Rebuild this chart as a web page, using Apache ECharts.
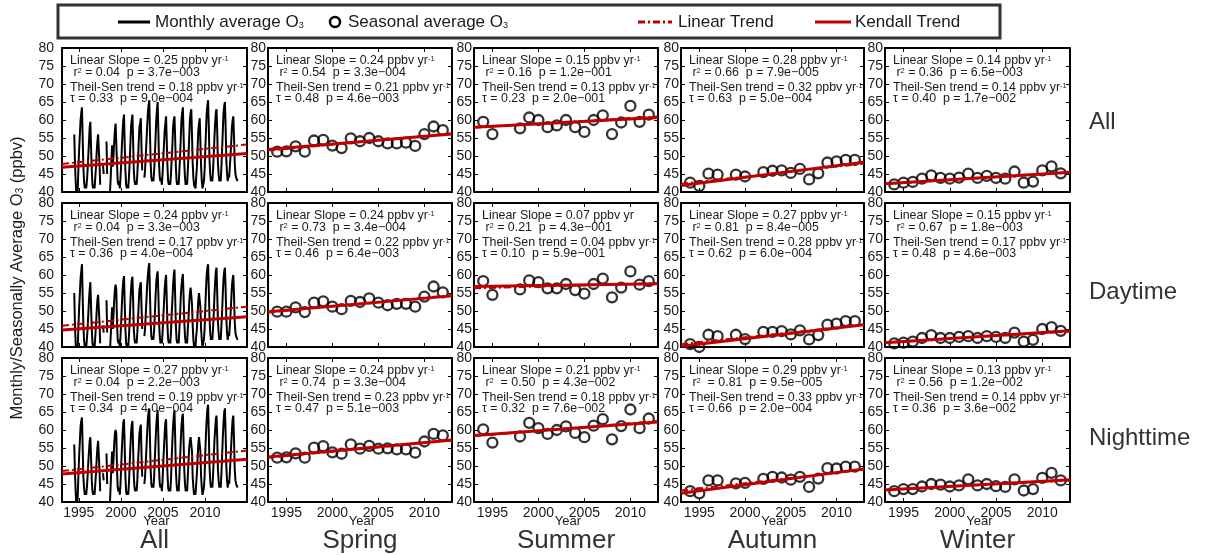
<!DOCTYPE html>
<html><head><meta charset="utf-8">
<script src="https://cdn.jsdelivr.net/npm/echarts@6/dist/echarts.min.js"></script>
<style>html,body{margin:0;padding:0;background:#fff}#c{width:1213px;height:555px}</style>
</head><body><div id="c"></div>
<script>
// ---------------- DATA ----------------
const monthlyYears = [1994,1995,1996,1997,1998,1999,2000,2001,2002,2003,2004,2005,2006,2007,2008,2009,2010,2011,2012,2013];
const monthlyAll = [
 [null,null,null,null,null,56,48,43,39,38,41,47],
 [52,56,60,62,63.5,55,47,43,41,42,41,43],
 [46,50,54,58,59.5,52,46,42,41,42,41,44],
 [47,51,54,56,56.5,48,42,null,52,null,47.5,45],
 [null,null,null,54,45,null,null,null,40,44,49,53],
 [47,50,54,57,59,58.5,48,43,42,43,41,44],
 [48,53,57,60,61.5,53,46,42,41,42,41,44],
 [48,53,58,60,61.5,54,46,43,42,43,42,45],
 [49,54,58,59,60.5,52,46,null,null,44,46,50],
 [54,58,62,64,65.5,57,48,44,43,44,43,46],
 [50,55,60,63,65,57,48,44,43,44,42,45],
 [49,53,57,59,61,54,47,43,42,43,42,45],
 [49,53,58,60,61,55,47,43,42,43,42,46],
 [50,55,60,62,63.5,56,48,44,42,43,42,46],
 [50,55,60,62,63,56,48,44,42,42,41,44],
 [47,52,57,59,60.5,54,47,43,41,42,43,46],
 [52,57,62,64,65.5,58,49,45,43,44,43,46],
 [50,55,59,62,63,57,48,45,43,44,43,47],
 [52,57,62,64,65,58,49,45,43,45,44,47],
 [50,54,58,60,61,55,48,45,44,44,43,null]
];
const monthlyDaytime = [
 [null,null,null,null,null,55,46,41,38,37,40,46],
 [51,55,59,61,63,54,46,42,40,41,40,42],
 [45,49,53,56,58,51,45,41,40,41,40,43],
 [46,50,53,54.5,55,47,41,null,50,null,46,44],
 [null,null,null,53,44,null,null,null,39,43,47,51],
 [45,49,53,56,57.3,56,47,42,41,42,40,43],
 [47,52,56,58.5,59.7,52,45,41,40,41,40,43],
 [47,52,56,58.5,59.5,53,45,42,41,42,41,44],
 [48,52,56,57,58,51,45,null,null,43,45,49],
 [53,57,60,62,63.3,55,47,43,42,43,42,45],
 [49,54,58,60,61,55,47,43,41,42,41,44],
 [48,52,56,58.5,60,53,46,42,41,42,41,44],
 [49,53,57,60,61.5,54,46,42,41,42,41,45],
 [49,54,57,59,60.3,54,47,43,41,42,41,45],
 [48,52,55,56.5,57,52,46,42,40,41,40,43],
 [45,49,53,55,55.5,51,45,42,40,41,42,45],
 [51,56,60,62,63,56,48,44,42,43,42,45],
 [49,54,58,61,62,55,47,44,42,43,42,46],
 [50,55,59,61,62,56,48,44,42,44,43,46],
 [49,53,57,59,60,54,47,44,43,43,42,null]
];
const monthlyNighttime = [
 [null,null,null,null,null,56,48,43,39,38,42,48],
 [53,57,61,62.5,63.5,55,47,44,42,43,42,44],
 [47,51,54,57,58,52,46,43,42,43,42,45],
 [48,52,55,57,57.5,49,43,null,53,null,48,46],
 [null,null,null,53.5,45,null,null,null,40,45,50,54],
 [48,52,56,59,60,59,49,44,43,44,42,45],
 [50,55,59,62,63,55,47,43,42,43,42,45],
 [50,55,59,61.5,62.5,55,47,44,43,44,43,46],
 [51,55,59,60.5,61.5,53,47,null,null,45,47,51],
 [55,59,63,65,66,58,49,45,44,45,44,47],
 [52,57,61,64,65.5,58,49,45,44,45,43,46],
 [51,55,59,62,63,56,48,44,43,44,43,46],
 [52,57,61,64,65.5,58,49,45,43,44,43,47],
 [52,57,61,63.5,64.5,57,49,45,43,44,43,47],
 [51,55,57,58,58.5,54,47,44,42,43,42,45],
 [48,52,56,58,58.5,54,47,44,42,43,44,47],
 [54,59,63,66,67,59,50,46,44,45,44,47],
 [52,57,60,63,64,58,49,46,44,45,44,48],
 [53,58,62,65,66,59,50,46,44,46,45,48],
 [52,56,60,63,64,57,49,46,45,45,44,null]
];

const springYears = [1994,1995,1996,1997,1998,1999,2000,2001,2002,2003,2004,2005,2006,2007,2008,2009,2010,2011,2012];
const summerYears = [1994,1995,1998,1999,2000,2001,2002,2003,2004,2005,2006,2007,2008,2009,2010,2011,2012];
const autumnYears = [1994,1995,1996,1997,1999,2000,2002,2003,2004,2005,2006,2007,2008,2009,2010,2011,2012];
const winterYears = [1994,1995,1996,1997,1998,1999,2000,2001,2002,2003,2004,2005,2006,2007,2008,2009,2010,2011,2012];

const springAll = [51.2,51.3,52.7,51.2,54.3,54.5,52.9,52.2,54.9,54.1,55.0,54.1,53.5,53.5,53.7,52.8,56.1,58.2,57.2];
const summerAll = [59.5,56.1,57.7,60.7,60.0,58.0,58.5,60.0,58.0,56.7,60.0,61.3,56.1,59.3,63.9,59.5,61.5];
const autumnAll = [42.6,41.7,45.1,44.8,44.8,44.3,45.5,45.9,46.0,45.3,46.4,43.5,45.2,48.2,48.5,48.9,48.9];
const winterAll = [42.1,42.6,42.8,43.7,44.6,43.9,43.7,44.0,45.1,43.9,44.5,43.9,43.7,45.7,42.6,42.9,46.0,47.1,45.2];
const springDaytime = [49.8,49.8,51.0,49.7,52.3,52.7,51.2,50.5,52.8,52.5,53.5,52.3,51.6,52.0,52.0,51.2,54.0,56.8,55.2];
const summerDaytime = [58.3,54.5,56.0,58.5,58.0,56.3,56.3,57.5,55.8,54.8,57.5,59.0,53.8,56.5,61.0,57.3,58.3];
const autumnDaytime = [40.8,40.0,43.4,43.0,43.4,42.2,44.2,44.2,44.4,43.5,44.6,42.1,43.3,46.2,46.5,47.2,47.2];
const winterDaytime = [41.0,41.2,41.5,42.5,43.3,42.5,42.5,42.8,43.0,42.5,43.0,42.8,42.5,44.0,41.5,42.0,45.0,45.5,44.5];
const springNighttime = [52.3,52.4,53.5,52.3,55.1,55.5,53.8,53.4,56.0,54.8,55.6,54.8,54.9,54.6,54.6,53.7,56.8,58.9,58.5];
const summerNighttime = [60.2,56.5,58.2,62.0,60.5,58.9,60.0,61.0,59.2,58.0,61.2,63.0,57.4,61.1,65.7,60.5,63.2];
const autumnNighttime = [43.0,42.4,46.0,46.0,45.2,45.3,46.4,47.0,46.8,46.2,47.0,44.2,46.5,49.4,49.3,49.8,49.8];
const winterNighttime = [43.0,43.6,43.6,44.3,45.0,44.8,44.3,44.6,46.3,44.6,45.0,44.4,44.2,46.3,43.2,43.6,46.7,48.1,46.0];

// trend line values at the left and right edge of each panel (All, Spring, Summer, Autumn, Winter)
const kendallAll = [[46.9,50.7],[51.8,56.1],[58.0,60.7],[41.8,48.3],[42.3,45.5]];
const linearAll  = [[47.8,53.2],[51.5,56.3],[57.9,61.0],[42.3,47.9],[42.2,45.4]];
const kendallDaytime = [[44.7,48.4],[49.8,54.2],[56.8,57.6],[40.2,46.2],[41.2,44.5]];
const linearDaytime  = [[45.9,51.2],[49.6,54.4],[56.3,57.7],[40.8,46.2],[41.3,44.3]];
const kendallNighttime = [[47.8,51.9],[52.5,57.2],[58.5,62.2],[42.4,49.2],[43.3,46.2]];
const linearNighttime  = [[48.6,54.3],[52.3,57.1],[58.3,62.5],[43.2,49.0],[43.4,46.0]];

// statistics text: [linear slope, r2 part, p, Theil-Sen slope, tau, p, no superscript]
const statsAll = [
 ['0.25',' = 0.04','3.7e\u2212003','0.18','0.33','9.0e\u2212004'],
 ['0.24',' = 0.54','3.3e\u2212004','0.21','0.48','4.6e\u2212003'],
 ['0.15',' = 0.16','1.2e\u2212001','0.13','0.23','2.0e\u2212001'],
 ['0.28',' = 0.66','7.9e\u2212005','0.32','0.63','5.0e\u2212004'],
 ['0.14',' = 0.36','6.5e\u2212003','0.14','0.40','1.7e\u2212002']
];
const statsDaytime = [
 ['0.24',' = 0.04','3.3e\u2212003','0.17','0.36','4.0e\u2212004'],
 ['0.24',' = 0.73','3.4e\u2212004','0.22','0.46','6.4e\u2212003'],
 ['0.07',' = 0.21','4.3e\u2212001','0.04','0.10','5.9e\u2212001',true],
 ['0.27',' = 0.81','8.4e\u2212005','0.28','0.62','6.0e\u2212004'],
 ['0.15',' = 0.67','1.8e\u2212003','0.17','0.48','4.6e\u2212003']
];
const statsNighttime = [
 ['0.27',' = 0.04','2.2e\u2212003','0.19','0.34','4.0e\u2212004'],
 ['0.24',' = 0.74','3.3e\u2212004','0.23','0.47','5.1e\u2212003'],
 ['0.21','  = 0.50','4.3e\u2212002','0.18','0.32','7.6e\u2212002'],
 ['0.29','  = 0.81','9.5e\u2212005','0.33','0.66','2.0e\u2212004'],
 ['0.13',' = 0.56','1.2e\u2212002','0.14','0.36','3.6e\u2212002']
];

const columnNames = ['All','Spring','Summer','Autumn','Winter'];
const rowNames = ['All','Daytime','Nighttime'];
const yearTicks = [1995,2000,2005,2010];
const monthlyRange = [1993,2015];
const seasonalRange = [1993,2013];

// ---------------- LAYOUT ----------------
const colLeft = [62, 268, 474, 681, 885];
const colW = [185, 184, 184, 183, 185];
const rowTop = [48, 203, 358];
const rowH = 144;
const RED = '#c00000';
const FONT = "'Liberation Sans', Arial, sans-serif";
const NARROW = "'Liberation Sans Narrow', 'Arial Narrow', 'Liberation Sans', Arial, sans-serif";

const rows = [
 {monthly: monthlyAll, seasonal: [springAll, summerAll, autumnAll, winterAll], kendall: kendallAll, linear: linearAll, stats: statsAll},
 {monthly: monthlyDaytime, seasonal: [springDaytime, summerDaytime, autumnDaytime, winterDaytime], kendall: kendallDaytime, linear: linearDaytime, stats: statsDaytime},
 {monthly: monthlyNighttime, seasonal: [springNighttime, summerNighttime, autumnNighttime, winterNighttime], kendall: kendallNighttime, linear: linearNighttime, stats: statsNighttime}
];
const seasonYears = [springYears, summerYears, autumnYears, winterYears];

const grids = [], xAxes = [], yAxes = [], series = [], graphics = [];
const supRich = {
  sup: {fontSize: 7.5, verticalAlign: 'top', fill: '#1a1a1a', fontFamily: FONT}
};
const yearFmt = v => String(Math.round(v));

let gi = 0;
rows.forEach((row, r) => {
  for (let c = 0; c < 5; c++) {
    const range = c === 0 ? monthlyRange : seasonalRange;
    grids.push({left: colLeft[c], top: rowTop[r], width: colW[c], height: rowH, containLabel: false});
    const axLine = {show: true, onZero: false, lineStyle: {color: '#000', width: 2}};
    xAxes.push({type: 'value', gridIndex: gi, min: range[0], max: range[1], position: 'bottom',
      axisLine: axLine,
      axisTick: {show: true, inside: true, length: 4, customValues: yearTicks, lineStyle: {color: '#000', width: 1}},
      axisLabel: {show: r === 2, customValues: yearTicks, formatter: yearFmt, fontSize: 14, color: '#1a1a1a', fontFamily: FONT, margin: 4},
      splitLine: {show: false}});
    yAxes.push({type: 'value', gridIndex: gi, min: 40, max: 80, interval: 5, position: 'left',
      axisLine: axLine,
      axisTick: {show: true, inside: true, length: 4, lineStyle: {color: '#000', width: 1}},
      axisLabel: {show: true, fontSize: 14, color: '#1a1a1a', fontFamily: FONT, margin: c === 0 ? 8 : 2},
      splitLine: {show: false}});

    if (c === 0) {
      const data = [];
      monthlyYears.forEach((yr, k) => {
        row.monthly[k].forEach((v, m) => data.push([yr + (m + 0.5) / 12, v]));
      });
      series.push({type: 'line', xAxisIndex: gi, yAxisIndex: gi, data, symbol: 'none', showSymbol: false,
        connectNulls: false, lineStyle: {color: '#000', width: 2}, z: 2, silent: true});
    } else {
      const yrs = seasonYears[c - 1], vals = row.seasonal[c - 1];
      series.push({type: 'scatter', xAxisIndex: gi, yAxisIndex: gi, data: yrs.map((y, k) => [y, vals[k]]),
        symbol: 'circle', symbolSize: 10,
        itemStyle: {color: 'rgba(255,255,255,0)', borderColor: '#000', borderWidth: 2.3}, z: 3, silent: true});
    }
    series.push({type: 'line', xAxisIndex: gi, yAxisIndex: gi, symbol: 'none',
      data: [[range[0], row.linear[c][0]], [range[1], row.linear[c][1]]],
      lineStyle: {color: RED, width: 2, type: [7, 3, 2, 3]}, z: 4, silent: true});
    series.push({type: 'line', xAxisIndex: gi, yAxisIndex: gi, symbol: 'none',
      data: [[range[0], row.kendall[c][0]], [range[1], row.kendall[c][1]]],
      lineStyle: {color: RED, width: 3}, z: 5, silent: true});

    // statistics text
    const s = row.stats[c];
    const lines = [
      'Linear Slope = ' + s[0] + ' ppbv yr' + (s[6] ? '' : '{sup|-1}'),
      ' r{sup|2}' + s[1] + '  p = ' + s[2],
      'Theil-Sen trend = ' + s[3] + ' ppbv yr{sup|-1}',
      '\u03c4 = ' + s[4] + '  p = ' + s[5]
    ];
    const dy = [13, 25, 40, 51];
    lines.forEach((t, k) => {
      graphics.push({type: 'text', x: colLeft[c] + 8, y: rowTop[r] + dy[k], z: 100, silent: true,
        style: {text: t, fontSize: 12.4, fontFamily: FONT, fill: '#1a1a1a', verticalAlign: 'middle', align: 'left', rich: supRich}});
    });
    gi++;
  }
});
// secondary axes (top / right) for the box ticks
for (let k = 0; k < 15; k++) {
  const c = k % 5;
  const range = c === 0 ? monthlyRange : seasonalRange;
  xAxes.push({type: 'value', gridIndex: k, min: range[0], max: range[1], position: 'top',
    axisLine: {show: true, onZero: false, lineStyle: {color: '#000', width: 2}},
    axisTick: {show: true, inside: true, length: 4, customValues: yearTicks, lineStyle: {color: '#000', width: 1}},
    axisLabel: {show: false}, splitLine: {show: false}});
  yAxes.push({type: 'value', gridIndex: k, min: 40, max: 80, interval: 5, position: 'right',
    axisLine: {show: true, onZero: false, lineStyle: {color: '#000', width: 2}},
    axisTick: {show: true, inside: true, length: 4, lineStyle: {color: '#000', width: 1}},
    axisLabel: {show: false}, splitLine: {show: false}});
}

// "Year" labels and column titles
for (let c = 0; c < 5; c++) {
  const cx = colLeft[c] + colW[c] / 2;
  graphics.push({type: 'text', x: cx + 2, y: 521, z: 101, silent: true,
    style: {text: 'Year', fontSize: 13, fontFamily: FONT, fill: '#1a1a1a', align: 'center', verticalAlign: 'middle'}});
  graphics.push({type: 'text', x: cx, y: 541, z: 101, silent: true,
    style: {text: columnNames[c], fontSize: 26, fontFamily: FONT, fill: '#333', align: 'center', verticalAlign: 'middle'}});
}
// row titles
const rowLabelY = [122, 292, 438];
rowNames.forEach((n, r) => {
  graphics.push({type: 'text', x: 1089, y: rowLabelY[r], z: 101, silent: true,
    style: {text: n, fontSize: 24, fontFamily: FONT, fill: '#333', align: 'left', verticalAlign: 'middle'}});
});
// y axis title
graphics.push({type: 'text', x: 17, y: 278, rotation: Math.PI / 2, z: 101, silent: true,
  style: {text: 'Monthly/Seasonally Average O{sub|3} (ppbv)', fontSize: 16.5, fontFamily: FONT, fill: '#1a1a1a',
    align: 'center', verticalAlign: 'middle', rich: {sub: {fontSize: 10, verticalAlign: 'bottom', fill: '#1a1a1a', fontFamily: FONT}}}});

// legend box
const legRich = {sub: {fontSize: 9, verticalAlign: 'bottom', fill: '#1a1a1a', fontFamily: NARROW}};
graphics.push({type: 'rect', shape: {x: 58, y: 5, width: 942, height: 33}, z: 101, silent: true,
  style: {fill: 'none', stroke: '#333', lineWidth: 3}});
graphics.push({type: 'line', shape: {x1: 118, y1: 22, x2: 150, y2: 22}, z: 101, silent: true, style: {stroke: '#000', lineWidth: 3}});
graphics.push({type: 'text', x: 155, y: 22, z: 101, silent: true, style: {text: 'Monthly average O{sub|3}', fontSize: 17, fontFamily: NARROW, fill: '#1a1a1a', verticalAlign: 'middle', rich: legRich}});
graphics.push({type: 'circle', shape: {cx: 335, cy: 22, r: 5}, z: 101, silent: true, style: {fill: 'none', stroke: '#000', lineWidth: 2.5}});
graphics.push({type: 'text', x: 348, y: 22, z: 101, silent: true, style: {text: 'Seasonal average O{sub|3}', fontSize: 17, fontFamily: NARROW, fill: '#1a1a1a', verticalAlign: 'middle', rich: legRich}});
graphics.push({type: 'line', shape: {x1: 638, y1: 22, x2: 672, y2: 22}, z: 101, silent: true, style: {stroke: RED, lineWidth: 3, lineDash: [7, 3, 2, 3]}});
graphics.push({type: 'text', x: 678, y: 22, z: 101, silent: true, style: {text: 'Linear Trend', fontSize: 17, fontFamily: NARROW, fill: '#1a1a1a', verticalAlign: 'middle'}});
graphics.push({type: 'line', shape: {x1: 815, y1: 22, x2: 851, y2: 22}, z: 101, silent: true, style: {stroke: RED, lineWidth: 3}});
graphics.push({type: 'text', x: 855, y: 22, z: 101, silent: true, style: {text: 'Kendall Trend', fontSize: 17, fontFamily: NARROW, fill: '#1a1a1a', verticalAlign: 'middle'}});

const chart = echarts.init(document.getElementById('c'), null, {renderer: 'canvas'});
chart.setOption({
  animation: false,
  backgroundColor: '#fff',
  grid: grids, xAxis: xAxes, yAxis: yAxes, series, graphic: graphics
});
</script></body></html>
